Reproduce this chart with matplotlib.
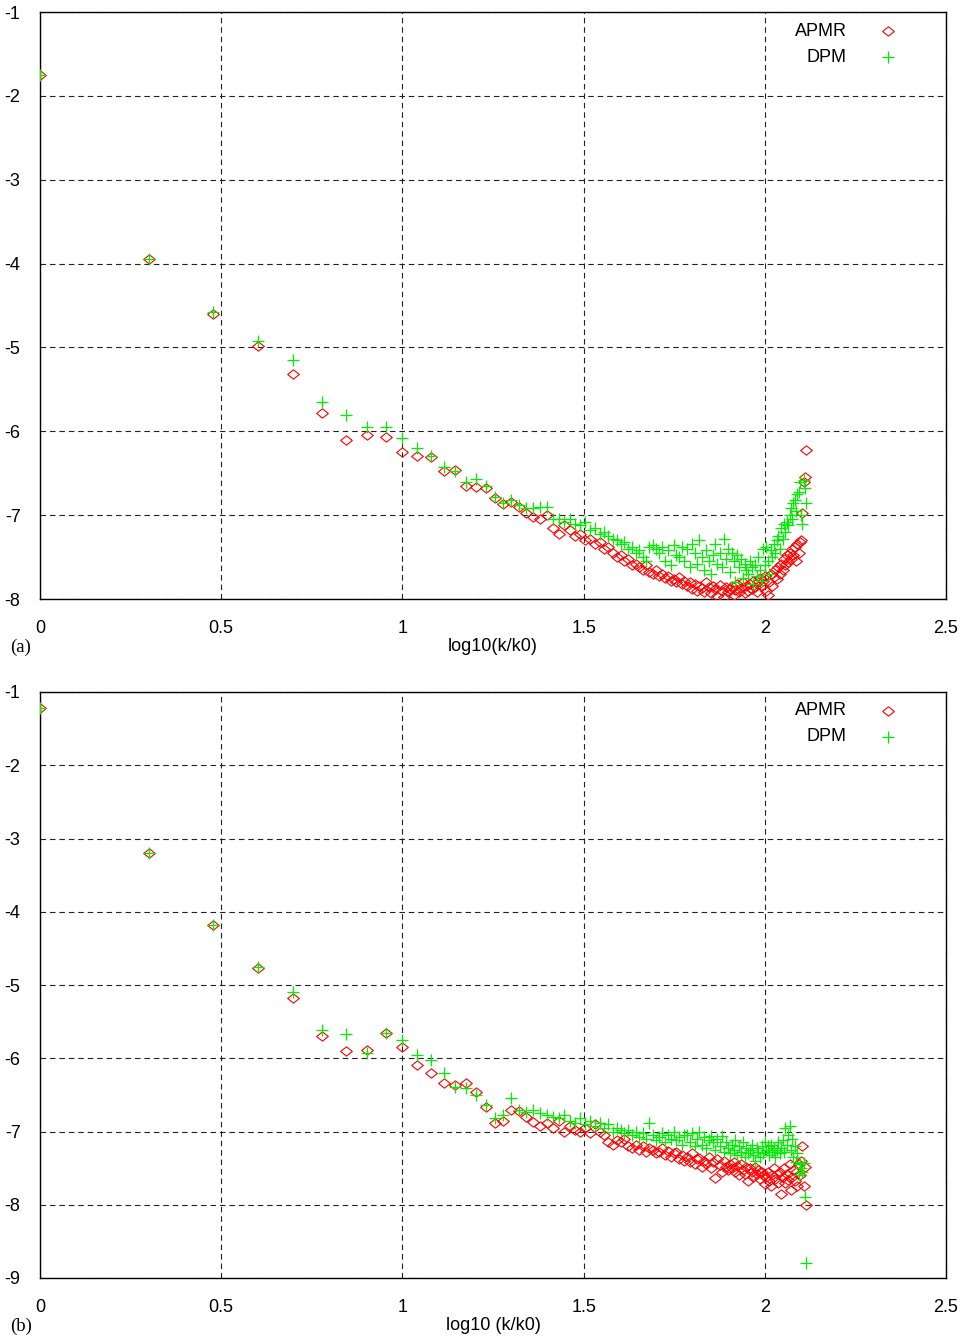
import numpy as np
import matplotlib
matplotlib.use("Agg")
import matplotlib.pyplot as plt
from matplotlib.path import Path

plt.rcParams['font.family'] = ['Liberation Sans', 'DejaVu Sans']
plt.rcParams['axes.unicode_minus'] = False

# k = 1..130, x = log10(k/k0)
k = np.arange(1, 131)

apmr_a = [
    -1.75, -3.95, -4.60, -4.98, -5.32, -5.78, -6.10, -6.05, -6.07, -6.25,
    -6.30, -6.31, -6.47, -6.46, -6.65, -6.67, -6.68, -6.80, -6.87, -6.84,
    -6.90, -6.98, -7.02, -7.05, -7.00, -7.15, -7.22, -7.12, -7.18, -7.25,
    -7.22, -7.30, -7.28, -7.35, -7.32, -7.40, -7.38, -7.45, -7.50, -7.48,
    -7.55, -7.52, -7.60, -7.58, -7.62, -7.65, -7.60, -7.68, -7.70, -7.66,
    -7.72, -7.70, -7.75, -7.73, -7.78, -7.76, -7.80, -7.74, -7.82, -7.78,
    -7.85, -7.80, -7.88, -7.82, -7.90, -7.84, -7.87, -7.92, -7.80, -7.86,
    -7.93, -7.85, -7.88, -7.96, -7.83, -7.90, -7.98, -7.86, -7.92, -7.88,
    -7.84, -7.95, -7.89, -7.82, -7.92, -7.87, -7.80, -7.93, -7.85, -7.90,
    -7.82, -7.88, -7.78, -7.86, -7.92, -7.80, -7.75, -7.85, -7.78, -7.72,
    -7.90, -7.95, -7.80, -7.70, -7.85, -7.74, -7.66, -7.76, -7.62, -7.70,
    -7.58, -7.65, -7.52, -7.60, -7.48, -7.56, -7.45, -7.52, -7.40, -7.48,
    -7.38, -7.55, -7.35, -7.45, -7.32, -7.30, -6.98, -6.60, -6.55, -6.22,
]
dpm_a = [
    -1.75, -3.95, -4.58, -4.92, -5.15, -5.65, -5.80, -5.95, -5.95, -6.08,
    -6.20, -6.30, -6.43, -6.47, -6.60, -6.57, -6.65, -6.78, -6.85, -6.82,
    -6.88, -6.92, -6.92, -6.90, -6.90, -7.05, -7.05, -7.08, -7.05, -7.10,
    -7.12, -7.08, -7.18, -7.15, -7.22, -7.20, -7.25, -7.28, -7.30, -7.35,
    -7.32, -7.40, -7.38, -7.45, -7.42, -7.50, -7.55, -7.38, -7.36, -7.40,
    -7.45, -7.38, -7.55, -7.42, -7.60, -7.36, -7.48, -7.50, -7.38, -7.55,
    -7.40, -7.62, -7.35, -7.45, -7.58, -7.30, -7.50, -7.65, -7.42, -7.55,
    -7.70, -7.48, -7.35, -7.58, -7.45, -7.62, -7.28, -7.52, -7.40, -7.68,
    -7.45, -7.55, -7.80, -7.48, -7.62, -7.52, -7.75, -7.58, -7.65, -7.70,
    -7.55, -7.62, -7.82, -7.60, -7.72, -7.50, -7.65, -7.78, -7.40, -7.60,
    -7.38, -7.55, -7.70, -7.42, -7.50, -7.35, -7.45, -7.30, -7.25, -7.40,
    -7.15, -7.28, -7.10, -7.20, -7.08, -7.12, -7.00, -6.92, -7.05, -6.85,
    -6.82, -6.95, -6.75, -6.72, -6.60, -7.00, -7.10, -6.58, -6.68, -6.85,
]
apmr_b = [
    -1.22, -3.20, -4.18, -4.77, -5.18, -5.70, -5.90, -5.89, -5.66, -5.85,
    -6.09, -6.20, -6.34, -6.37, -6.34, -6.46, -6.66, -6.89, -6.85, -6.70,
    -6.72, -6.80, -6.87, -6.93, -6.89, -6.95, -6.85, -7.00, -6.92, -6.98,
    -7.00, -6.95, -7.02, -6.90, -7.00, -7.05, -7.15, -7.18, -7.12, -7.15,
    -7.10, -7.20, -7.22, -7.18, -7.25, -7.20, -7.28, -7.22, -7.25, -7.30,
    -7.28, -7.22, -7.32, -7.26, -7.35, -7.30, -7.28, -7.38, -7.32, -7.40,
    -7.35, -7.42, -7.30, -7.45, -7.38, -7.36, -7.48, -7.40, -7.44, -7.35,
    -7.50, -7.42, -7.63, -7.38, -7.46, -7.55, -7.40, -7.48, -7.52, -7.45,
    -7.50, -7.42, -7.55, -7.47, -7.60, -7.45, -7.52, -7.58, -7.48, -7.68,
    -7.50, -7.55, -7.62, -7.48, -7.58, -7.52, -7.65, -7.55, -7.60, -7.72,
    -7.62, -7.55, -7.68, -7.75, -7.60, -7.50, -7.65, -7.58, -7.70, -7.55,
    -7.85, -7.62, -7.50, -7.70, -7.58, -7.66, -7.45, -7.80, -7.62, -7.52,
    -7.68, -7.55, -7.75, -7.45, -7.60, -7.40, -7.20, -7.75, -7.48, -8.00,
]
dpm_b = [
    -1.22, -3.20, -4.18, -4.76, -5.10, -5.62, -5.67, -5.93, -5.65, -5.75,
    -5.96, -6.03, -6.20, -6.39, -6.40, -6.50, -6.64, -6.81, -6.78, -6.54,
    -6.70, -6.73, -6.70, -6.75, -6.78, -6.80, -6.82, -6.78, -6.85, -6.88,
    -6.82, -6.90, -6.85, -6.92, -6.88, -6.95, -6.90, -7.00, -6.95, -6.98,
    -7.02, -6.98, -7.05, -7.00, -7.08, -7.02, -7.10, -6.89, -7.05, -7.12,
    -7.08, -7.02, -7.15, -7.05, -7.10, -7.00, -7.12, -7.08, -7.18, -7.05,
    -7.05, -7.15, -7.02, -7.20, -7.10, -7.00, -7.18, -7.08, -7.22, -7.12,
    -7.06, -7.15, -7.25, -7.10, -7.20, -7.06, -7.28, -7.15, -7.22, -7.30,
    -7.18, -7.25, -7.12, -7.32, -7.20, -7.28, -7.15, -7.35, -7.22, -7.30,
    -7.25, -7.18, -7.32, -7.40, -7.22, -7.28, -7.35, -7.20, -7.30, -7.15,
    -7.25, -7.20, -7.32, -7.18, -7.28, -7.22, -7.35, -7.25, -7.15, -7.30,
    -7.22, -7.12, -7.28, -6.95, -7.18, -7.05, -6.93, -7.25, -7.10, -7.35,
    -7.20, -7.42, -7.30, -7.60, -7.45, -7.50, -7.55, -7.43, -7.89, -8.80,
]

x_ticks = [0, 0.5, 1, 1.5, 2, 2.5]
x_ticklabels = ['0', '0.5', '1', '1.5', '2', '2.5']
series_names = ['APMR', 'DPM']

diamond = Path([(-1, 0), (0, 0.8), (1, 0), (0, -0.8), (-1, 0)],
               [Path.MOVETO, Path.LINETO, Path.LINETO, Path.LINETO, Path.CLOSEPOLY])

RED = '#ff0000'
GREEN = '#00ee00'

fig = plt.figure(figsize=(9.64, 13.43), dpi=100)
W, H = 964, 1343

def make_ax(top_px, bot_px):
    return fig.add_axes([40 / W, 1 - bot_px / H, 906 / W, (bot_px - top_px) / H])

panels = [
    (make_ax(12, 599), apmr_a, dpm_a, (-8, -1), 'log10(k/k0)', '(a)'),
    (make_ax(692, 1278), apmr_b, dpm_b, (-9, -1), 'log10 (k/k0)', '(b)'),
]

x = np.log10(k)
for ax, ap, dp, ylim, xlabel, tag in panels:
    ax.plot(x, ap, linestyle='none', marker=diamond, markersize=8.4,
            markerfacecolor='none', markeredgecolor=RED, markeredgewidth=0.8, zorder=3)
    ax.plot(x, dp, linestyle='none', marker='+', markersize=9,
            color=GREEN, markeredgewidth=0.9, zorder=4)
    ax.set_xlim(0, 2.5)
    ax.set_ylim(*ylim)
    ax.set_xticks(x_ticks)
    ax.set_xticklabels(x_ticklabels)
    yt = list(range(ylim[0], ylim[1] + 1))
    ax.set_yticks(yt)
    ax.set_yticklabels([str(v) for v in yt])
    ax.tick_params(length=0, labelsize=13)
    ax.tick_params(axis='y', pad=14)
    ax.tick_params(axis='x', pad=15)
    ax.grid(True, color='#222222', linestyle=(0, (5, 3.5)), linewidth=0.8)
    for s in ax.spines.values():
        s.set_linewidth(1.0)
        s.set_color('black')
    ax.set_xlabel(xlabel, fontsize=13, labelpad=0.5)
    ax.text(-0.033, -0.083, tag, transform=ax.transAxes, fontsize=13.5,
            family=['Liberation Serif', 'DejaVu Serif'], ha='left', va='center')
    # legend (gnuplot style)
    ax.text(0.8907, 0.9676, series_names[0], transform=ax.transAxes, ha='right',
            va='center', fontsize=13)
    ax.text(0.8907, 0.9233, series_names[1], transform=ax.transAxes, ha='right',
            va='center', fontsize=13)
    ax.plot([0.936], [0.9676], transform=ax.transAxes, linestyle='none', marker=diamond,
            markersize=8.4, markerfacecolor='none', markeredgecolor=RED,
            markeredgewidth=0.8)
    ax.plot([0.936], [0.9233], transform=ax.transAxes, linestyle='none', marker='+',
            markersize=9, color=GREEN, markeredgewidth=0.9)

fig.savefig('out.png', dpi=100)
